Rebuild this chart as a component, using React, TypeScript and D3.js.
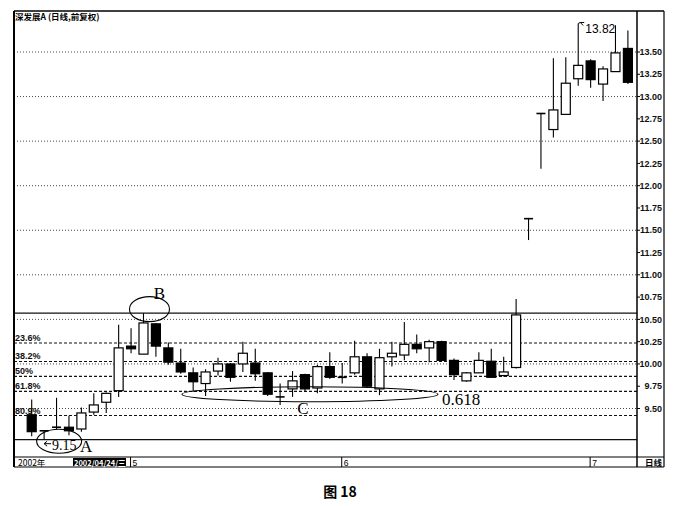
import * as d3 from "d3";

// daily bars, 2002-04 .. 2002-07
const candleOpen = [9.43, 9.25, 9.28, 9.29, 9.27, 9.46, 9.57, 9.70, 10.20, 10.11, 10.45, 10.18, 10.01, 9.90, 9.78, 9.92, 10.00, 10.00, 10.01, 9.90, 9.63, 9.72, 9.88, 9.73, 9.97, 9.85, 9.90, 10.08, 9.72, 10.08, 10.10, 10.22, 10.18, 10.25, 10.04, 9.81, 9.90, 10.03, 9.87, 9.96, 11.63, 12.81, 12.63, 12.80, 13.20, 13.40, 13.14, 13.28, 13.54];
const candleHigh = [9.60, 9.26, 9.62, 9.42, 9.51, 9.67, 9.68, 10.44, 10.40, 10.57, 10.46, 10.24, 10.17, 9.96, 9.94, 10.07, 10.01, 10.25, 10.17, 9.91, 9.78, 9.92, 9.89, 9.99, 10.13, 10.01, 10.26, 10.12, 10.17, 10.25, 10.47, 10.33, 10.27, 10.26, 10.06, 9.91, 10.13, 10.17, 10.08, 10.73, 11.63, 12.81, 13.43, 13.44, 13.82, 13.42, 13.34, 13.80, 13.74];
const candleLow = [9.19, 9.15, 9.27, 9.20, 9.24, 9.43, 9.45, 9.63, 10.12, 10.11, 10.08, 9.99, 9.89, 9.69, 9.64, 9.87, 9.80, 9.91, 9.81, 9.64, 9.54, 9.63, 9.69, 9.67, 9.83, 9.78, 9.88, 9.73, 9.65, 9.97, 10.04, 10.12, 10.02, 10.03, 9.82, 9.80, 9.90, 9.85, 9.86, 9.95, 11.39, 12.19, 12.54, 12.80, 13.12, 13.10, 12.95, 13.28, 13.14];
const candleClose = [9.24, 9.24, 9.29, 9.25, 9.45, 9.54, 9.67, 10.18, 10.17, 10.46, 10.20, 10.02, 9.91, 9.80, 9.91, 10.00, 9.85, 10.12, 9.89, 9.66, 9.63, 9.81, 9.72, 9.97, 9.85, 9.85, 10.08, 9.75, 10.07, 10.12, 10.22, 10.17, 10.25, 10.04, 9.88, 9.90, 10.04, 9.85, 9.91, 10.55, 11.63, 12.81, 12.85, 13.15, 13.35, 13.19, 13.31, 13.49, 13.16];

const priceTicks = [9.5, 9.75, 10, 10.25, 10.5, 10.75, 11, 11.25, 11.5, 11.75, 12, 12.25, 12.5, 12.75, 13, 13.25, 13.5];

// golden section lines between A (low) and B (high)
const fibHigh = 10.57;
const fibLow = 9.15;
const fibLevels = [0, 0.236, 0.382, 0.5, 0.618, 0.809, 1];
const fibLabels = ["", "23.6%", "38.2%", "50%", "61.8%", "80.9%", ""];

const monthLabels = ["5", "6", "7"];
const monthStart = [8, 25, 45];

const W = 673;
const H = 506;
const frame = { left: 14, right: 637, top: 11, bottom: 457, outer: 664, strip: 467 };
const bodyW = 9;
const axisFont = "'Liberation Sans', Arial, sans-serif";
const serif = "'Liberation Serif', 'DejaVu Serif', serif";
const cjk = "'Noto Sans CJK SC', sans-serif";

export default function App() {
  const x = d3.scaleLinear().domain([0, candleOpen.length - 1]).range([31.7, 627.9]);
  const y = d3.scaleLinear().domain([9.5, 13.5]).range([408.5, 52]);
  const fmt = d3.format(".2f");
  const gridVals = priceTicks.filter((v) => Math.abs(v * 2 - Math.round(v * 2)) < 1e-6);
  const fibY = (lvl: number) => y(fibHigh - lvl * (fibHigh - fibLow));

  const iHigh = candleHigh.indexOf(d3.max(candleHigh) as number);
  const iLow = candleLow.indexOf(d3.min(candleLow) as number);
  const iB = candleHigh.indexOf(fibHigh);

  const lowX = x(iLow);
  const lowY = y(candleLow[iLow]);
  const hiX = x(iHigh);
  const hiY = y(candleHigh[iHigh]);

  return (
    <svg width={W} height={H} style={{ position: "absolute", left: 0, top: 0, background: "#fff" }}>
      <rect x={0} y={0} width={W} height={H} fill="#fff" />

      {/* dotted grid */}
      {gridVals.map((v) => (
        <line key={"g" + v} x1={frame.left} x2={frame.right} y1={y(v)} y2={y(v)}
          stroke="#333" strokeWidth={0.9} strokeDasharray="1,2" />
      ))}

      {/* golden section lines */}
      {fibLevels.map((lvl, i) => (
        <g key={"f" + lvl}>
          <line x1={frame.left} x2={frame.right} y1={fibY(lvl)} y2={fibY(lvl)}
            stroke="#111" strokeWidth={lvl === 0 || lvl === 1 ? 1.3 : 1.2}
            strokeDasharray={lvl === 0 || lvl === 1 ? undefined : "3,2"} />
          {fibLabels[i] && (
            <text x={frame.left + 1} y={fibY(lvl) - 2} fontSize={9} fontWeight="bold"
              fontFamily={axisFont} fill="#111">{fibLabels[i]}</text>
          )}
        </g>
      ))}

      {/* candles */}
      {candleOpen.map((o, i) => {
        const c = candleClose[i];
        const cx = x(i);
        const top = y(Math.max(o, c));
        const bot = y(Math.min(o, c));
        const up = c > o;
        const flat = Math.abs(bot - top) < 1;
        return (
          <g key={"c" + i}>
            <line x1={cx} x2={cx} y1={y(candleHigh[i])} y2={y(candleLow[i])} stroke="#000" strokeWidth={1.1} />
            {flat ? (
              <line x1={cx - bodyW / 2} x2={cx + bodyW / 2} y1={top} y2={top} stroke="#000" strokeWidth={1.6} />
            ) : (
              <rect x={cx - bodyW / 2} y={top} width={bodyW} height={bot - top}
                fill={up ? "#fff" : "#000"} stroke="#000" strokeWidth={1.2} />
            )}
          </g>
        );
      })}

      {/* max marker */}
      <path d={`M${hiX},${hiY} l2,-1 l4,0 M${hiX + 2},${hiY - 1} l3,3`} stroke="#000" strokeWidth={1} fill="none" />
      <text x={hiX + 7} y={hiY + 10} fontSize={12} fontFamily={axisFont} fill="#000">
        {candleHigh[iHigh].toFixed(2)}
      </text>

      {/* annotations */}
      <ellipse cx={x(iB) + 6} cy={y(fibHigh) - 4} rx={20} ry={12.5} fill="none" stroke="#000" strokeWidth={1.1} />
      <text x={x(iB) + 16} y={y(fibHigh) - 14} textAnchor="middle" fontSize={17} fontFamily={serif}>B</text>

      <ellipse cx={lowX + 15} cy={lowY + 1.5} rx={22.5} ry={12} fill="none" stroke="#000" strokeWidth={1.1} />
      <path d={`M${lowX},${lowY + 4} l7,0 M${lowX},${lowY + 4} l3,-2.5 M${lowX},${lowY + 4} l3,2.5`}
        stroke="#000" strokeWidth={1} fill="none" />
      <text x={lowX + 8} y={lowY + 10} fontSize={14} fontFamily={serif}>{candleLow[iLow].toFixed(2)}</text>
      <text x={lowX + 42} y={lowY + 12} textAnchor="middle" fontSize={17} fontFamily={serif}>A</text>

      <ellipse cx={x(22) + 5} cy={y(9.66)} rx={128} ry={7.5} fill="none" stroke="#000" strokeWidth={1.1} />
      <text x={x(22) - 2} y={y(9.66) + 20} textAnchor="middle" fontSize={17} fontFamily={serif}>C</text>
      <text x={442} y={fibY(0.618) + 14} fontSize={17} fontFamily={serif}>0.618</text>

      {/* right price axis */}
      {priceTicks.map((v) => (
        <g key={"t" + v}>
          <line x1={frame.right} x2={frame.right + 3} y1={y(v)} y2={y(v)} stroke="#000" strokeWidth={1} />
          <text x={frame.outer - 2} y={y(v)} dy="0.35em" textAnchor="end" fontSize={9} fontWeight="bold"
            fontFamily={axisFont} fill="#111">{fmt(v)}</text>
        </g>
      ))}

      {/* frame */}
      <line x1={frame.left} x2={frame.outer} y1={frame.top} y2={frame.top} stroke="#000" strokeWidth={1.5} />
      <line x1={frame.left} x2={frame.left} y1={frame.top} y2={frame.strip} stroke="#000" strokeWidth={2} />
      <line x1={frame.right} x2={frame.right} y1={frame.top} y2={frame.strip} stroke="#000" strokeWidth={1.5} />
      <line x1={frame.outer} x2={frame.outer} y1={frame.top} y2={frame.strip} stroke="#000" strokeWidth={1.2} />
      <line x1={frame.left} x2={frame.outer} y1={frame.bottom} y2={frame.bottom} stroke="#000" strokeWidth={1.2} />
      <line x1={frame.left} x2={frame.outer} y1={frame.strip} y2={frame.strip} stroke="#000" strokeWidth={1.2} />

      <text x={frame.left + 1} y={frame.top + 9} fontSize={8.5} fontWeight="bold"
        fontFamily={cjk} fill="#000">深发展A (日线,前复权)</text>

      {/* date strip */}
      <text x={18} y={frame.strip - 1.5} fontSize={8.5} fontFamily={cjk} fill="#000">2002年</text>
      <rect x={73} y={frame.bottom + 1} width={53} height={frame.strip - frame.bottom - 2} fill="#000" />
      <text x={74} y={frame.strip - 1.5} fontSize={7.5} fontWeight="bold" fontFamily={cjk} fill="#fff">2002/04/24/三</text>
      {monthLabels.map((m, k) => (
        <g key={"m" + m}>
          <line x1={x(monthStart[k]) - 0.5} x2={x(monthStart[k]) - 0.5} y1={frame.bottom} y2={frame.strip} stroke="#000" strokeWidth={1} />
          <text x={x(monthStart[k]) + 1.5} y={frame.strip - 1.5} fontSize={8.5} fontFamily={axisFont} fill="#000">{m}</text>
        </g>
      ))}
      <text x={frame.outer - 2} y={frame.strip - 1.5} textAnchor="end" fontSize={8.5} fontWeight="bold"
        fontFamily={cjk} fill="#000">日线</text>

      <text x={340} y={497} textAnchor="middle" fontSize={14} fontWeight="bold" fontFamily={cjk} fill="#000">图 18</text>
    </svg>
  );
}
